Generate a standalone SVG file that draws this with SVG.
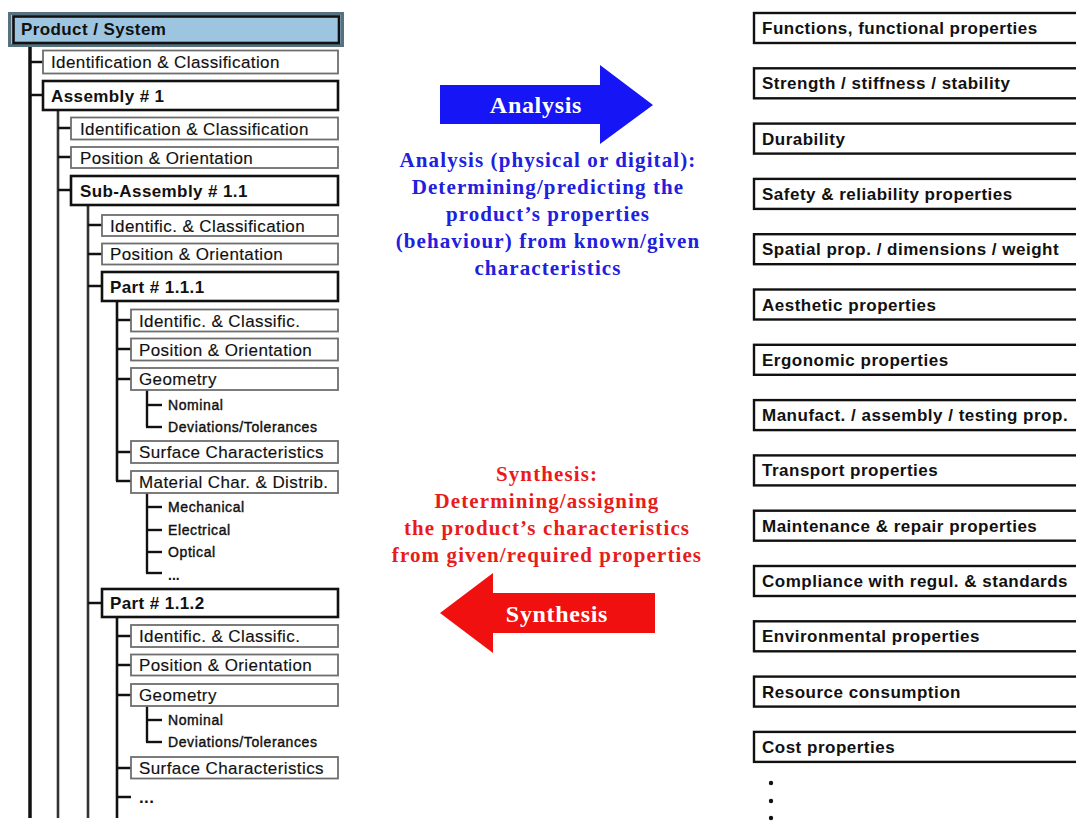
<svg xmlns="http://www.w3.org/2000/svg" width="1076" height="821" viewBox="0 0 1076 821">
  <style>
    .box { fill: #ffffff; stroke: #6e6e6e; stroke-width: 1.8; }
    .bbox { fill: #ffffff; stroke: #111111; stroke-width: 2.4; }
    .pbox { fill: #ffffff; stroke: #111111; stroke-width: 2.6; }
    .t { font-family: "Liberation Sans", Arial, sans-serif; font-size: 17px; letter-spacing: 0.4px; fill: #111111; stroke: #111111; stroke-width: 0.15; }
    .tb { font-family: "Liberation Sans", Arial, sans-serif; font-size: 17px; font-weight: bold; letter-spacing: 0.4px; fill: #111111; }
    .ts { font-family: "Liberation Sans", Arial, sans-serif; font-size: 14px; letter-spacing: 0.6px; fill: #111111; stroke: #111111; stroke-width: 0.4; }
    .tsb { font-family: "Liberation Sans", Arial, sans-serif; font-size: 14px; font-weight: bold; fill: #111111; }
    .tp { font-family: "Liberation Sans", Arial, sans-serif; font-size: 17px; font-weight: bold; letter-spacing: 0.5px; fill: #111111; }
    .serif { font-family: "Liberation Serif", "Times New Roman", serif; font-weight: bold; text-anchor: middle; }
    .blue { fill: #2020dd; font-size: 21px; letter-spacing: 1.1px; }
    .red { fill: #e81c1c; font-size: 21px; letter-spacing: 1.1px; }
    .arrowtext { fill: #ffffff; font-size: 24px; letter-spacing: 0.7px; }
    .trunk { stroke: #111111; fill: none; }
  </style>

  <!-- tree connectors -->
  <g id="connectors" class="trunk">
    <!-- level 0 trunk -->
    <line x1="30" y1="45" x2="30" y2="818" stroke-width="3.5"/>
    <line x1="30" y1="62" x2="43" y2="62" stroke-width="2.5"/>
    <line x1="30" y1="95" x2="43" y2="95" stroke-width="2.5"/>
    <!-- level 1 trunk -->
    <line x1="58" y1="110" x2="58" y2="818" stroke-width="2.6" stroke="#333333"/>
    <line x1="58" y1="128" x2="71" y2="128" stroke-width="2.5"/>
    <line x1="58" y1="157" x2="71" y2="157" stroke-width="2.5"/>
    <line x1="58" y1="190" x2="71" y2="190" stroke-width="2.5"/>
    <!-- level 2 trunk -->
    <line x1="88" y1="205" x2="88" y2="818" stroke-width="2.6" stroke="#333333"/>
    <line x1="88" y1="225" x2="102" y2="225" stroke-width="2.5"/>
    <line x1="88" y1="254" x2="102" y2="254" stroke-width="2.5"/>
    <line x1="88" y1="286" x2="102" y2="286" stroke-width="2.5"/>
    <line x1="88" y1="603" x2="102" y2="603" stroke-width="2.5"/>
    <!-- Part 1.1.1 trunk -->
    <line x1="117" y1="301" x2="117" y2="481" stroke-width="2.6"/>
    <line x1="116" y1="320" x2="131" y2="320" stroke-width="2.5"/>
    <line x1="116" y1="349" x2="131" y2="349" stroke-width="2.5"/>
    <line x1="116" y1="379" x2="131" y2="379" stroke-width="2.5"/>
    <line x1="116" y1="452" x2="131" y2="452" stroke-width="2.5"/>
    <line x1="116" y1="481" x2="131" y2="481" stroke-width="2.5"/>
    <!-- geometry sub-branch 1.1.1 -->
    <line x1="147" y1="390" x2="147" y2="427" stroke-width="2.4"/>
    <line x1="146" y1="405" x2="162" y2="405" stroke-width="2.4"/>
    <line x1="146" y1="427" x2="162" y2="427" stroke-width="2.4"/>
    <!-- material sub-branch 1.1.1 -->
    <line x1="147" y1="493" x2="147" y2="573" stroke-width="2.4"/>
    <line x1="146" y1="507" x2="162" y2="507" stroke-width="2.4"/>
    <line x1="146" y1="530" x2="162" y2="530" stroke-width="2.4"/>
    <line x1="146" y1="552" x2="162" y2="552" stroke-width="2.4"/>
    <line x1="146" y1="573" x2="162" y2="573" stroke-width="2.4"/>
    <!-- Part 1.1.2 trunk -->
    <line x1="117" y1="617" x2="117" y2="818" stroke-width="2.6"/>
    <line x1="116" y1="636" x2="131" y2="636" stroke-width="2.5"/>
    <line x1="116" y1="665" x2="131" y2="665" stroke-width="2.5"/>
    <line x1="116" y1="695" x2="131" y2="695" stroke-width="2.5"/>
    <line x1="116" y1="768" x2="131" y2="768" stroke-width="2.5"/>
    <line x1="116" y1="797" x2="131" y2="797" stroke-width="2.5"/>
    <!-- geometry sub-branch 1.1.2 -->
    <line x1="147" y1="706" x2="147" y2="742" stroke-width="2.4"/>
    <line x1="146" y1="720" x2="162" y2="720" stroke-width="2.4"/>
    <line x1="146" y1="742" x2="162" y2="742" stroke-width="2.4"/>
  </g>

  <!-- product tree -->
  <g id="product-system">
    <rect x="9.5" y="13.5" width="333" height="32" fill="#9ec5e0" stroke="#56727f" stroke-width="3"/>
    <rect x="13.5" y="16.5" width="325.5" height="26.5" fill="none" stroke="#111111" stroke-width="2.6"/>
    <text class="tb" x="21" y="35">Product / System</text>
  </g>
  <g id="ps-ident">
    <rect class="box" x="43" y="50.5" width="295" height="23"/>
    <text class="t" x="51" y="68">Identification &amp; Classification</text>
  </g>
  <g id="assembly-1">
    <rect class="pbox" x="43" y="81" width="295" height="29"/>
    <text class="tb" x="51" y="102">Assembly # 1</text>
  </g>
  <g id="a1-ident">
    <rect class="box" x="71" y="117.5" width="267" height="22"/>
    <text class="t" x="80" y="135">Identification &amp; Classification</text>
  </g>
  <g id="a1-position">
    <rect class="box" x="71" y="147" width="267" height="21"/>
    <text class="t" x="80" y="164">Position &amp; Orientation</text>
  </g>
  <g id="sub-assembly-1-1">
    <rect class="pbox" x="71" y="176" width="267" height="29"/>
    <text class="tb" x="80" y="197">Sub-Assembly # 1.1</text>
  </g>
  <g id="sa-ident">
    <rect class="box" x="102" y="215" width="236" height="21"/>
    <text class="t" x="110" y="232">Identific. &amp; Classification</text>
  </g>
  <g id="sa-position">
    <rect class="box" x="102" y="243.5" width="236" height="21"/>
    <text class="t" x="110" y="260">Position &amp; Orientation</text>
  </g>
  <g id="part-1-1-1">
    <rect class="pbox" x="102" y="272" width="236" height="29"/>
    <text class="tb" x="110" y="293">Part # 1.1.1</text>
  </g>
  <g id="p1-ident">
    <rect class="box" x="131" y="309.5" width="207" height="22"/>
    <text class="t" x="139" y="327">Identific. &amp; Classific.</text>
  </g>
  <g id="p1-position">
    <rect class="box" x="131" y="338.5" width="207" height="22"/>
    <text class="t" x="139" y="356">Position &amp; Orientation</text>
  </g>
  <g id="p1-geometry">
    <rect class="box" x="131" y="368" width="207" height="22"/>
    <text class="t" x="139" y="385">Geometry</text>
    <text class="ts" x="168" y="410">Nominal</text>
    <text class="ts" x="168" y="432">Deviations/Tolerances</text>
  </g>
  <g id="p1-surface">
    <rect class="box" x="131" y="441" width="207" height="22"/>
    <text class="t" x="139" y="458">Surface Characteristics</text>
  </g>
  <g id="p1-material">
    <rect class="box" x="131" y="471" width="207" height="22"/>
    <text class="t" x="139" y="488">Material Char. &amp; Distrib.</text>
    <text class="ts" x="168" y="512">Mechanical</text>
    <text class="ts" x="168" y="535">Electrical</text>
    <text class="ts" x="168" y="557">Optical</text>
    <text class="tsb" x="168" y="580">...</text>
  </g>
  <g id="part-1-1-2">
    <rect class="pbox" x="102" y="589" width="236" height="28"/>
    <text class="tb" x="110" y="609">Part # 1.1.2</text>
  </g>
  <g id="p2-ident">
    <rect class="box" x="131" y="625" width="207" height="22"/>
    <text class="t" x="139" y="642">Identific. &amp; Classific.</text>
  </g>
  <g id="p2-position">
    <rect class="box" x="131" y="654.5" width="207" height="21"/>
    <text class="t" x="139" y="671">Position &amp; Orientation</text>
  </g>
  <g id="p2-geometry">
    <rect class="box" x="131" y="684" width="207" height="22"/>
    <text class="t" x="139" y="701">Geometry</text>
    <text class="ts" x="168" y="725">Nominal</text>
    <text class="ts" x="168" y="747">Deviations/Tolerances</text>
  </g>
  <g id="p2-surface">
    <rect class="box" x="131" y="757" width="207" height="21.5"/>
    <text class="t" x="139" y="774">Surface Characteristics</text>
  </g>
  <g id="p2-more">
    <text class="tb" x="139" y="803">...</text>
  </g>

  <!-- analysis arrow and caption -->
  <g id="analysis">
    <polygon points="440,85 600,85 600,65 653,105 600,144 600,124 440,124" fill="#1515f5"/>
    <text class="serif arrowtext" x="536" y="113">Analysis</text>
    <text class="serif blue" x="548" y="167">Analysis (physical or digital):</text>
    <text class="serif blue" x="548" y="194">Determining/predicting the</text>
    <text class="serif blue" x="548" y="221">product’s properties</text>
    <text class="serif blue" x="548" y="248">(behaviour) from known/given</text>
    <text class="serif blue" x="548" y="275">characteristics</text>
  </g>

  <!-- synthesis arrow and caption -->
  <g id="synthesis">
    <text class="serif red" x="547" y="481">Synthesis:</text>
    <text class="serif red" x="547" y="508">Determining/assigning</text>
    <text class="serif red" x="547" y="535">the product’s characteristics</text>
    <text class="serif red" x="547" y="562">from given/required properties</text>
    <polygon points="655,593 493,593 493,573 440,613 493,653 493,633 655,633" fill="#f01010"/>
    <text class="serif arrowtext" x="557" y="622">Synthesis</text>
  </g>

  <!-- property list -->
  <g id="prop-functions"><rect class="bbox" x="754" y="13" width="340" height="30"/><text class="tp" x="762" y="34">Functions, functional properties</text></g>
  <g id="prop-strength"><rect class="bbox" x="754" y="68.3" width="340" height="30"/><text class="tp" x="762" y="89.3">Strength / stiffness / stability</text></g>
  <g id="prop-durability"><rect class="bbox" x="754" y="123.6" width="340" height="30"/><text class="tp" x="762" y="144.6">Durability</text></g>
  <g id="prop-safety"><rect class="bbox" x="754" y="178.9" width="340" height="30"/><text class="tp" x="762" y="199.9">Safety &amp; reliability properties</text></g>
  <g id="prop-spatial"><rect class="bbox" x="754" y="234.2" width="340" height="30"/><text class="tp" x="762" y="255.2">Spatial prop. / dimensions / weight</text></g>
  <g id="prop-aesthetic"><rect class="bbox" x="754" y="289.5" width="340" height="30"/><text class="tp" x="762" y="310.5">Aesthetic properties</text></g>
  <g id="prop-ergonomic"><rect class="bbox" x="754" y="344.8" width="340" height="30"/><text class="tp" x="762" y="365.8">Ergonomic properties</text></g>
  <g id="prop-manufact"><rect class="bbox" x="754" y="400.1" width="340" height="30"/><text class="tp" x="762" y="421.1">Manufact. / assembly / testing prop.</text></g>
  <g id="prop-transport"><rect class="bbox" x="754" y="455.4" width="340" height="30"/><text class="tp" x="762" y="476.4">Transport properties</text></g>
  <g id="prop-maintenance"><rect class="bbox" x="754" y="510.7" width="340" height="30"/><text class="tp" x="762" y="531.7">Maintenance &amp; repair properties</text></g>
  <g id="prop-compliance"><rect class="bbox" x="754" y="566" width="340" height="30"/><text class="tp" x="762" y="587">Compliance with regul. &amp; standards</text></g>
  <g id="prop-environmental"><rect class="bbox" x="754" y="621.3" width="340" height="30"/><text class="tp" x="762" y="642.3">Environmental properties</text></g>
  <g id="prop-resource"><rect class="bbox" x="754" y="676.6" width="340" height="30"/><text class="tp" x="762" y="697.6">Resource consumption</text></g>
  <g id="prop-cost"><rect class="bbox" x="754" y="731.9" width="340" height="30"/><text class="tp" x="762" y="752.9">Cost properties</text></g>
  <g id="prop-more" fill="#111111">
    <circle cx="771" cy="783" r="2.2"/>
    <circle cx="771" cy="801" r="2.2"/>
    <circle cx="771" cy="818" r="2.2"/>
  </g>
</svg>
